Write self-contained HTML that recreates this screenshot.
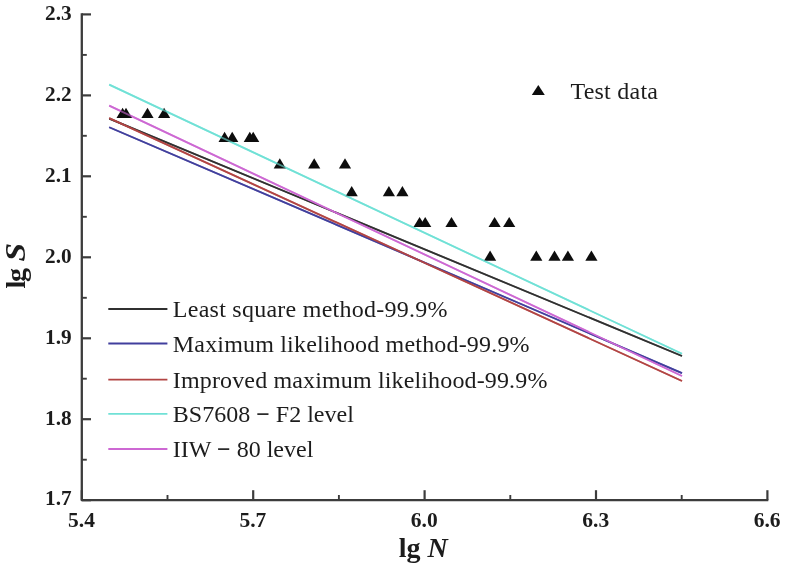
<!DOCTYPE html>
<html lang="en"><head><meta charset="utf-8"><title>lg S - lg N</title>
<style>html,body{margin:0;padding:0;background:#fff}svg{display:block}#soft{filter:blur(.4px)}text{font-family:"Liberation Serif","Times New Roman",serif;fill:#1c1c1c}.tk{font-weight:bold;font-size:21.5px}.ti{font-weight:bold;font-size:28px}.lg{font-size:24px}</style></head><body>
<svg width="786" height="569" viewBox="0 0 786 569">
<rect width="786" height="569" fill="#fff"/>
<g id="soft">
<g stroke-width="1.75" stroke-linecap="butt">
<line x1="109.2" y1="118.6" x2="682" y2="356.0" stroke="#303030"/>
<line x1="109.2" y1="127.2" x2="682" y2="373.1" stroke="#413f9d"/>
<line x1="109.2" y1="118.1" x2="682" y2="381.0" stroke="#b24443"/>
<line x1="109.2" y1="105.6" x2="682" y2="376.0" stroke="#cd68d3"/>
<line x1="109.2" y1="84.6" x2="682" y2="353.8" stroke="#70e1d6"/>
</g>
<polygon points="122.6,107.7 128.7,117.9 116.5,117.9" fill="#0d0d0d"/>
<polygon points="126.0,107.7 132.1,117.9 119.9,117.9" fill="#0d0d0d"/>
<polygon points="147.5,107.7 153.6,117.9 141.4,117.9" fill="#0d0d0d"/>
<polygon points="164.1,107.7 170.2,117.9 158.0,117.9" fill="#0d0d0d"/>
<polygon points="224.6,131.7 230.7,141.9 218.5,141.9" fill="#0d0d0d"/>
<polygon points="232.2,131.7 238.3,141.9 226.1,141.9" fill="#0d0d0d"/>
<polygon points="249.8,131.7 255.9,141.9 243.7,141.9" fill="#0d0d0d"/>
<polygon points="253.2,131.7 259.3,141.9 247.1,141.9" fill="#0d0d0d"/>
<polygon points="279.8,158.3 285.9,168.5 273.7,168.5" fill="#0d0d0d"/>
<polygon points="314.2,158.3 320.3,168.5 308.1,168.5" fill="#0d0d0d"/>
<polygon points="345.0,158.3 351.1,168.5 338.9,168.5" fill="#0d0d0d"/>
<polygon points="351.7,186.0 357.8,196.2 345.6,196.2" fill="#0d0d0d"/>
<polygon points="388.9,186.0 395.0,196.2 382.8,196.2" fill="#0d0d0d"/>
<polygon points="402.4,186.0 408.5,196.2 396.3,196.2" fill="#0d0d0d"/>
<polygon points="419.6,216.9 425.7,227.1 413.5,227.1" fill="#0d0d0d"/>
<polygon points="425.2,216.9 431.3,227.1 419.1,227.1" fill="#0d0d0d"/>
<polygon points="451.5,216.9 457.6,227.1 445.4,227.1" fill="#0d0d0d"/>
<polygon points="494.6,216.9 500.7,227.1 488.5,227.1" fill="#0d0d0d"/>
<polygon points="509.2,216.9 515.3,227.1 503.1,227.1" fill="#0d0d0d"/>
<polygon points="490.1,250.5 496.2,260.7 484.0,260.7" fill="#0d0d0d"/>
<polygon points="536.3,250.5 542.4,260.7 530.2,260.7" fill="#0d0d0d"/>
<polygon points="554.5,250.5 560.6,260.7 548.4,260.7" fill="#0d0d0d"/>
<polygon points="567.9,250.5 574.0,260.7 561.8,260.7" fill="#0d0d0d"/>
<polygon points="591.4,250.5 597.5,260.7 585.3,260.7" fill="#0d0d0d"/>
<g stroke-width="1.75" stroke-linecap="butt" opacity="0.6">
<line x1="109.2" y1="118.6" x2="682" y2="356.0" stroke="#303030"/>
<line x1="109.2" y1="127.2" x2="682" y2="373.1" stroke="#413f9d"/>
<line x1="109.2" y1="118.1" x2="682" y2="381.0" stroke="#b24443"/>
<line x1="109.2" y1="105.6" x2="682" y2="376.0" stroke="#cd68d3"/>
<line x1="109.2" y1="84.6" x2="682" y2="353.8" stroke="#70e1d6"/>
</g>
<path d="M81.8 13.3 V500.2 H768.3" fill="none" stroke="#3c3c3c" stroke-width="2.3" stroke-linejoin="round"/>
<line x1="81.8" x2="91.0" y1="500.2" y2="500.2" stroke="#3c3c3c" stroke-width="2.2"/>
<line x1="81.8" x2="86.8" y1="459.7" y2="459.7" stroke="#3c3c3c" stroke-width="1.9"/>
<text class="tk" transform="translate(71.6 505.3) scale(0.99 1)" text-anchor="end">1.7</text>
<line x1="81.8" x2="91.0" y1="419.2" y2="419.2" stroke="#3c3c3c" stroke-width="2.2"/>
<line x1="81.8" x2="86.8" y1="378.7" y2="378.7" stroke="#3c3c3c" stroke-width="1.9"/>
<text class="tk" transform="translate(71.6 425.0) scale(0.99 1)" text-anchor="end">1.8</text>
<line x1="81.8" x2="91.0" y1="338.3" y2="338.3" stroke="#3c3c3c" stroke-width="2.2"/>
<line x1="81.8" x2="86.8" y1="297.8" y2="297.8" stroke="#3c3c3c" stroke-width="1.9"/>
<text class="tk" transform="translate(71.6 344.1) scale(0.99 1)" text-anchor="end">1.9</text>
<line x1="81.8" x2="91.0" y1="257.3" y2="257.3" stroke="#3c3c3c" stroke-width="2.2"/>
<line x1="81.8" x2="86.8" y1="216.8" y2="216.8" stroke="#3c3c3c" stroke-width="1.9"/>
<text class="tk" transform="translate(71.6 263.1) scale(0.99 1)" text-anchor="end">2.0</text>
<line x1="81.8" x2="91.0" y1="176.3" y2="176.3" stroke="#3c3c3c" stroke-width="2.2"/>
<line x1="81.8" x2="86.8" y1="135.8" y2="135.8" stroke="#3c3c3c" stroke-width="1.9"/>
<text class="tk" transform="translate(71.6 182.1) scale(0.99 1)" text-anchor="end">2.1</text>
<line x1="81.8" x2="91.0" y1="95.4" y2="95.4" stroke="#3c3c3c" stroke-width="2.2"/>
<line x1="81.8" x2="86.8" y1="54.9" y2="54.9" stroke="#3c3c3c" stroke-width="1.9"/>
<text class="tk" transform="translate(71.6 101.2) scale(0.99 1)" text-anchor="end">2.2</text>
<line x1="81.8" x2="91.0" y1="14.4" y2="14.4" stroke="#3c3c3c" stroke-width="2.2"/>
<text class="tk" transform="translate(71.6 20.2) scale(0.99 1)" text-anchor="end">2.3</text>
<line y1="500.2" y2="490.2" x1="81.8" x2="81.8" stroke="#3c3c3c" stroke-width="2.2"/>
<line y1="500.2" y2="495.0" x1="167.5" x2="167.5" stroke="#3c3c3c" stroke-width="1.9"/>
<text class="tk" transform="translate(81.5 526.7) scale(1 1)" text-anchor="middle">5.4</text>
<line y1="500.2" y2="490.2" x1="253.2" x2="253.2" stroke="#3c3c3c" stroke-width="2.2"/>
<line y1="500.2" y2="495.0" x1="338.9" x2="338.9" stroke="#3c3c3c" stroke-width="1.9"/>
<text class="tk" transform="translate(252.9 526.7) scale(1 1)" text-anchor="middle">5.7</text>
<line y1="500.2" y2="490.2" x1="424.6" x2="424.6" stroke="#3c3c3c" stroke-width="2.2"/>
<line y1="500.2" y2="495.0" x1="510.3" x2="510.3" stroke="#3c3c3c" stroke-width="1.9"/>
<text class="tk" transform="translate(424.3 526.7) scale(1 1)" text-anchor="middle">6.0</text>
<line y1="500.2" y2="490.2" x1="596.0" x2="596.0" stroke="#3c3c3c" stroke-width="2.2"/>
<line y1="500.2" y2="495.0" x1="681.7" x2="681.7" stroke="#3c3c3c" stroke-width="1.9"/>
<text class="tk" transform="translate(595.7 526.7) scale(1 1)" text-anchor="middle">6.3</text>
<line y1="500.2" y2="490.2" x1="767.4" x2="767.4" stroke="#3c3c3c" stroke-width="2.2"/>
<text class="tk" transform="translate(767.1 526.7) scale(1 1)" text-anchor="middle">6.6</text>
<text class="ti" x="398.8" y="556.7">lg <tspan font-style="italic">N</tspan></text>
<text class="ti" letter-spacing="-1.5" transform="translate(25.4 288.4) rotate(-90)">lg</text>
<text class="ti" font-style="italic" transform="translate(25.3 261.4) rotate(-90) scale(1.2 1.04)">S</text>
<line x1="108.3" x2="167.4" y1="309" y2="309" stroke="#303030" stroke-width="1.9"/>
<text class="lg" x="172.8" y="317.4" textLength="274.8" lengthAdjust="spacing">Least square method-99.9%</text>
<line x1="108.3" x2="167.4" y1="343.5" y2="343.5" stroke="#413f9d" stroke-width="1.9"/>
<text class="lg" x="172.8" y="352" textLength="356.8" lengthAdjust="spacing">Maximum likelihood method-99.9%</text>
<line x1="108.3" x2="167.4" y1="379.6" y2="379.6" stroke="#b24443" stroke-width="1.9"/>
<text class="lg" x="172.8" y="387.8" textLength="374.6" lengthAdjust="spacing">Improved maximum likelihood-99.9%</text>
<line x1="108.3" x2="167.4" y1="413.9" y2="413.9" stroke="#70e1d6" stroke-width="1.9"/>
<text class="lg" x="172.8" y="422">BS7608 <tspan font-weight="bold">−</tspan> F2 level</text>
<line x1="108.3" x2="167.4" y1="449" y2="449" stroke="#cd68d3" stroke-width="1.9"/>
<text class="lg" x="172.8" y="456.7">IIW <tspan font-weight="bold">−</tspan> 80 level</text>
<polygon points="538.3,85.1 544.8,95.1 531.8,95.1" fill="#0d0d0d"/>
<text class="lg" x="570.4" y="99.4" textLength="87.6" lengthAdjust="spacing">Test data</text>
</g>
</svg></body></html>
